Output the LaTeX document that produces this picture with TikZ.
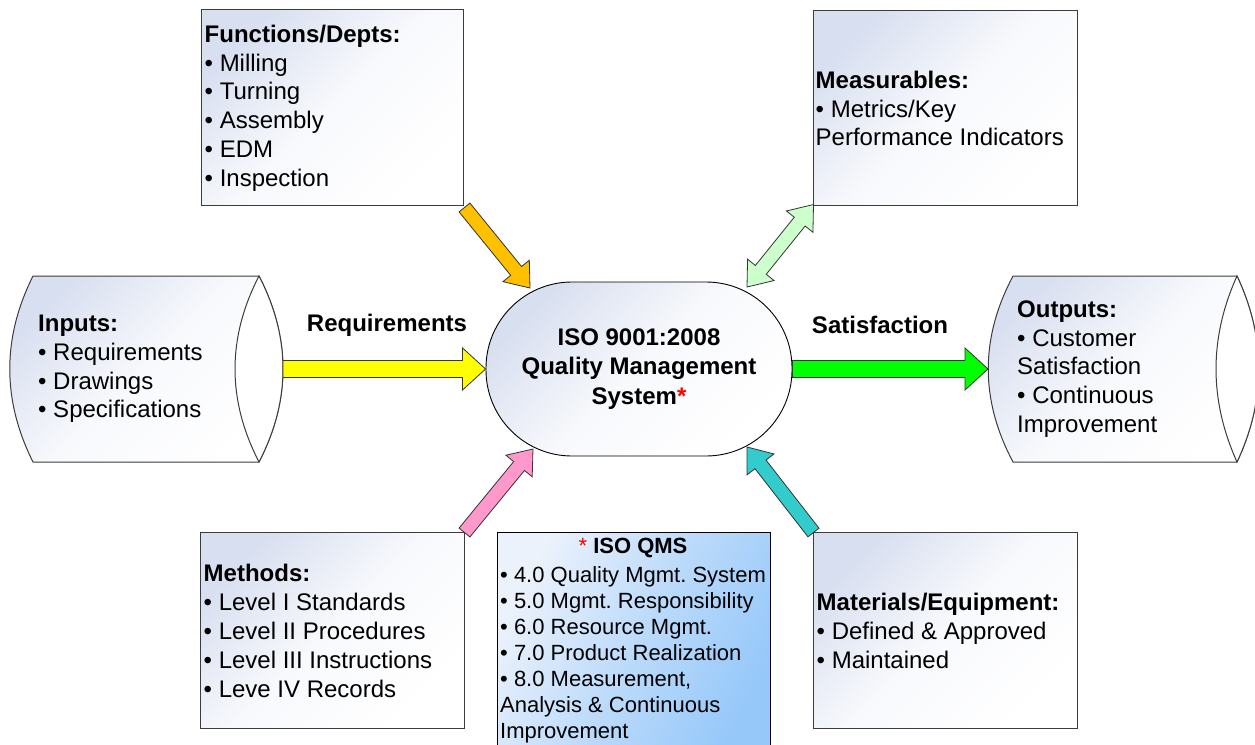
\documentclass[tikz,border=0pt]{standalone}
\usepackage{fontspec}
\setmainfont{Liberation Sans}
\usetikzlibrary{calc}
\frenchspacing
\definecolor{boxblue}{RGB}{216,223,240}
\definecolor{edgegray}{RGB}{60,60,60}
\definecolor{qmsblue}{RGB}{150,200,250}
\definecolor{qmslight}{RGB}{236,242,251}
\definecolor{arrowY}{RGB}{255,255,0}
\definecolor{arrowO}{RGB}{255,192,0}
\definecolor{arrowG}{RGB}{0,255,0}
\definecolor{arrowLG}{RGB}{204,255,204}
\definecolor{arrowP}{RGB}{255,153,204}
\definecolor{arrowT}{RGB}{51,204,204}
\newcommand\fsA{\fontsize{24pt}{28.8pt}\selectfont}
\newcommand\fsB{\fontsize{22pt}{26.1pt}\selectfont}
% block arrow: tail, tip, colour, half shaft, half head, head length
\newcommand\blockarrow[6]{%
  \coordinate (hb) at ($(#2)!#6!(#1)$);
  \filldraw[arrowline, fill=#3]
    ($(#1)!#4!90:(#2)$) -- ($(hb)!#4!90:(#2)$) -- ($(hb)!#5!90:(#2)$) -- (#2)
    -- ($(hb)!#5!-90:(#2)$) -- ($(hb)!#4!-90:(#2)$) -- ($(#1)!#4!-90:(#2)$) -- cycle;}
% double block arrow: end A, end B, colour, half shaft, half head, head length
\newcommand\doublearrow[6]{%
  \coordinate (hbA) at ($(#1)!#6!(#2)$);
  \coordinate (hbB) at ($(#2)!#6!(#1)$);
  \filldraw[arrowline, fill=#3]
    (#1) -- ($(hbA)!#5!90:(#2)$) -- ($(hbA)!#4!90:(#2)$) -- ($(hbB)!#4!90:(#2)$)
    -- ($(hbB)!#5!90:(#2)$) -- (#2) -- ($(hbB)!#5!-90:(#2)$) -- ($(hbB)!#4!-90:(#2)$)
    -- ($(hbA)!#4!-90:(#2)$) -- ($(hbA)!#5!-90:(#2)$) -- cycle;}
\tikzset{
  panel/.style={draw=edgegray, line width=1pt, top color=boxblue, bottom color=white,
    middle color=white!82!boxblue, shading angle=45},
  panelbox/.style={panel, rectangle, inner sep=0pt},
  boxtext/.style={align=left, inner sep=0pt, font=\fsA, anchor=west},
  arrowline/.style={draw=black!80, line width=0.8pt, line join=miter},
  lbl/.style={font=\fsA\bfseries, inner sep=0pt},
  oval/.style={draw=black, line width=0.9pt, rounded corners=86pt, minimum width=306pt,
    minimum height=174pt, top color=boxblue, bottom color=white, middle color=white!82!boxblue,
    shading angle=45, align=center, font=\fontsize{24pt}{29.5pt}\selectfont\bfseries, inner sep=0pt},
  qmsbox/.style={draw=black, line width=1pt, top color=qmslight, bottom color=qmsblue,
    middle color=qmsblue!55!qmslight, shading angle=62, anchor=north west, inner sep=0pt}
}
\begin{document}
\begin{tikzpicture}[x=1pt,y=-1pt]
\useasboundingbox[fill=white] (0,0) rectangle (1255,744);

% rectangles
\node[panelbox, minimum width=262pt, minimum height=196pt] (func) at (332,107) {};
\node[panelbox, minimum width=264pt, minimum height=195pt] (meas) at (945,107.5) {};
\node[panelbox, minimum width=264pt, minimum height=196pt] (meth) at (332,630) {};
\node[panelbox, minimum width=264pt, minimum height=196pt] (mat) at (945,630) {};

\node[boxtext] (functext) at ($(func.west)+(4,1)$) {\textbf{Functions/Depts:}\\• Milling\\• Turning\\• Assembly\\• EDM\\• Inspection};
\node[boxtext] (meastext) at ($(meas.west)+(3,1)$) {\textbf{Measurables:}\\• Metrics/Key\\Performance Indicators};
\node[boxtext] (methtext) at ($(meth.west)+(4,1)$) {\textbf{Methods:}\\• Level I Standards\\• Level II Procedures\\• Level III Instructions\\• Leve IV Records};
\node[boxtext] (mattext) at ($(mat.west)+(4,1)$) {\textbf{Materials/Equipment:}\\• Defined \& Approved\\• Maintained};

% input cylinder (lens-shaped ends)
\draw[panel] (33,276) -- (259,276) .. controls (291,338) and (291,400) .. (259,462)
  -- (33,462) .. controls (2,400) and (2,338) .. (33,276) -- cycle;
\draw[draw=edgegray, line width=1pt, fill=white] (259,276) .. controls (291,338) and (291,400) .. (259,462)
  .. controls (227,400) and (227,338) .. (259,276) -- cycle;
\coordinate (inend) at (283,369);
\node[boxtext] (intext) at (38,369) {\textbf{Inputs:}\\• Requirements\\• Drawings\\• Specifications};

% output cylinder
\draw[panel] (1013,276) -- (1237,276) .. controls (1266,338) and (1266,400) .. (1237,462)
  -- (1013,462) .. controls (980,400) and (980,338) .. (1013,276) -- cycle;
\draw[draw=edgegray, line width=1pt, fill=white] (1237,276) .. controls (1266,338) and (1266,400) .. (1237,462)
  .. controls (1209,400) and (1209,338) .. (1237,276) -- cycle;
\coordinate (outstart) at (988,369);
\node[boxtext] (outtext) at (1017,369) {\textbf{Outputs:}\\• Customer\\Satisfaction\\• Continuous\\Improvement};

% centre
\node[oval] (qms) at (639,369) {ISO 9001:2008\\Quality Management\\System\textcolor{red}{*}};

% ISO QMS box
\node[qmsbox, minimum width=273pt, minimum height=222pt] (iso) at (497,532) {};
\node[inner sep=0pt, font=\fsB] (isotitle) at (633,548) {\textcolor{red}{*} \textbf{ISO QMS}};
\node[anchor=north west, inner sep=0pt, align=left, font=\fsB] (isotext) at (500,566)
  {• 4.0 Quality Mgmt. System\\• 5.0 Mgmt. Responsibility\\• 6.0 Resource Mgmt.\\
   • 7.0 Product Realization\\• 8.0 Measurement,\\Analysis \& Continuous\\Improvement};

% labels
\node[lbl] (req) at (387,325) {Requirements};
\node[lbl] (sat) at (880,325) {Satisfaction};

% arrow end points
\coordinate (oT) at ($(func.south east)+(1,2)$);
\coordinate (oP) at (530,288);
\coordinate (gA) at (747,287);
\coordinate (gB) at ($(meas.south west)+(1,-1)$);
\coordinate (pT) at ($(meth.north east)+(0,1)$);
\coordinate (pP) at (533,449);
\coordinate (tT) at ($(mat.north west)+(1,1)$);
\coordinate (tP) at (747,447);

\blockarrow{inend}{qms.west}{arrowY}{8.5pt}{21pt}{23pt}
\blockarrow{qms.east}{outstart}{arrowG}{8.5pt}{21pt}{23pt}
\blockarrow{oT}{oP}{arrowO}{7pt}{17pt}{22pt}
\doublearrow{gA}{gB}{arrowLG}{7pt}{17pt}{22pt}
\blockarrow{pT}{pP}{arrowP}{7pt}{17pt}{22pt}
\blockarrow{tT}{tP}{arrowT}{7pt}{17pt}{22pt}
\end{tikzpicture}
\end{document}
